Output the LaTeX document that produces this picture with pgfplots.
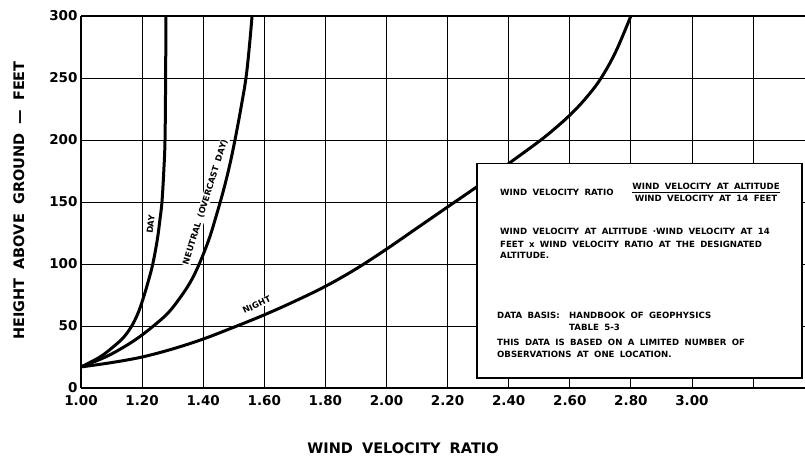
\documentclass[border=0pt]{standalone}
\usepackage{fontspec}
\setmainfont{DejaVu Sans}
\newfontfamily\wfont{DejaVu Sans}[WordSpace=1.4]
\newfontfamily\lfont{DejaVu Sans}[WordSpace=1.8]
\usepackage{pgfplots}
\pgfplotsset{compat=1.18}
\newcommand{\bx}{\wfont\bfseries\fontsize{8.6}{12}\selectfont}
\newcommand{\cl}{\wfont\bfseries\fontsize{8.4}{10}\selectfont}
\begin{document}
\begin{tikzpicture}
\useasboundingbox (0,0) rectangle (805pt,455pt);
\begin{axis}[
  at={(81pt,67pt)}, anchor=south west,
  scale only axis, width=724pt, height=372pt,
  xmin=1, xmax=3.37, ymin=0, ymax=300,
  axis x line*=box, axis y line*=left,
  axis line style={line width=1.8pt,-},
  xtick={1,1.2,1.4,1.6,1.8,2,2.2,2.4,2.6,2.8,3,3.2},
  xticklabels={1.00,1.20,1.40,1.60,1.80,2.00,2.20,2.40,2.60,2.80,3.00,{}},
  ytick={0,50,100,150,200,250,300},
  yticklabels={0,50,100,150,200,250,300},
  major tick length=0pt,
  grid=major, grid style={black, line width=0.8pt},
  tick label style={font=\fontsize{13.5}{14}\selectfont\bfseries},
  x tick label style={yshift=-4pt},
  clip=false,
]
% DAY
\addplot[black, line width=3pt, smooth, tension=0.6] coordinates {
 (1.000,17) (1.062,25) (1.106,33.3) (1.140,41) (1.166,50) (1.186,60) (1.202,71)
 (1.219,85) (1.235,100) (1.250,120) (1.258,135) (1.265,150) (1.271,175)
 (1.275,200) (1.277,250) (1.278,300)};
% NEUTRAL
\addplot[black, line width=3pt, smooth, tension=0.6] coordinates {
 (1.000,17) (1.080,25) (1.142,33.3) (1.190,41) (1.237,50) (1.283,60) (1.319,71)
 (1.357,85) (1.387,100) (1.419,120) (1.444,140) (1.467,160) (1.487,180)
 (1.504,200) (1.523,225) (1.540,250) (1.551,275) (1.560,300)};
% NIGHT
\addplot[black, line width=3pt, smooth, tension=0.6] coordinates {
 (1.00,17) (1.10,20.5) (1.20,25) (1.30,31.5) (1.40,39.5) (1.50,49) (1.60,59) (1.70,70)
 (1.80,82) (1.90,96) (2.00,112) (2.10,129) (2.20,146) (2.30,163) (2.40,181)
 (2.50,199) (2.55,209) (2.60,220) (2.65,233) (2.70,249) (2.75,271) (2.80,300)};

\node[fill=white, inner sep=1pt, rotate=83, font=\cl] at (axis cs:1.228,132) {DAY};
\node[fill=white, inner sep=1pt, rotate=72.5, font=\cl] at (axis cs:1.407,150) {NEUTRAL (OVERCAST DAY)};
\node[fill=white, inner sep=1pt, rotate=25, font=\cl] at (axis cs:1.575,67) {NIGHT};

\draw[line width=1.6pt, fill=white] (axis cs:2.296,8.06) rectangle (axis cs:3.360,181.2);
\node[anchor=base west, inner sep=0pt, font=\bx] at (axis cs:2.3715,155.6) {WIND VELOCITY RATIO};
\node[anchor=center, inner sep=0pt, font=\bx] at (axis cs:3.046,158.1)
  {$\displaystyle\frac{\mbox{WIND VELOCITY AT ALTITUDE}}{\mbox{WIND VELOCITY AT 14 FEET}}$};
\node[anchor=base west, inner sep=0pt, font=\bx] at (axis cs:2.3715,123.8) {WIND VELOCITY AT ALTITUDE ·WIND VELOCITY AT 14};
\node[anchor=base west, inner sep=0pt, font=\bx] at (axis cs:2.3715,113.7) {FEET x WIND VELOCITY RATIO AT THE DESIGNATED};
\node[anchor=base west, inner sep=0pt, font=\bx] at (axis cs:2.3715,104.8) {ALTITUDE.};
\node[anchor=base west, inner sep=0pt, font=\bx] at (axis cs:2.3617,55.9) {DATA BASIS:};
\node[anchor=base west, inner sep=0pt, font=\bx] at (axis cs:2.5974,55.9) {HANDBOOK OF GEOPHYSICS};
\node[anchor=base west, inner sep=0pt, font=\bx] at (axis cs:2.5974,46.2) {TABLE 5-3};
\node[anchor=base west, inner sep=0pt, font=\bx] at (axis cs:2.3617,33.9) {THIS DATA IS BASED ON A LIMITED NUMBER OF};
\node[anchor=base west, inner sep=0pt, font=\bx] at (axis cs:2.3617,24.2) {OBSERVATIONS AT ONE LOCATION.};
\end{axis}
\node[anchor=base, inner sep=0pt, font=\lfont\bfseries\fontsize{14.5}{16}\selectfont] at (403pt,2pt) {WIND VELOCITY RATIO};
\node[anchor=base, rotate=90, inner sep=0pt, font=\lfont\bfseries\fontsize{14.5}{16}\selectfont] at (24pt,254.5pt) {HEIGHT ABOVE GROUND — FEET};
\end{tikzpicture}
\end{document}
